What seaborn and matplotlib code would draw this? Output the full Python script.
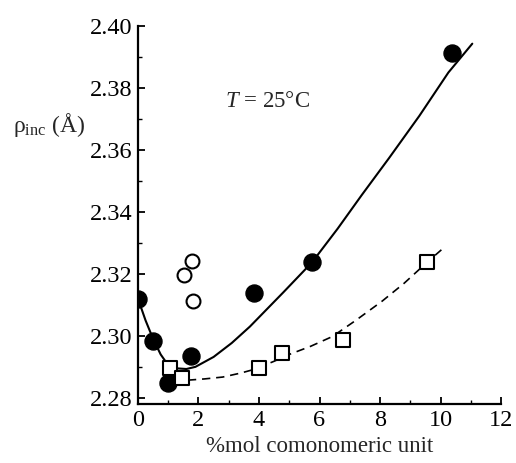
import matplotlib
matplotlib.use("Agg")
import matplotlib.pyplot as plt
import seaborn as sns
import pandas as pd
from matplotlib.ticker import MultipleLocator

# Data
filled_x = [0.0, 0.5, 1.0, 1.75, 3.85, 5.75, 10.37]
filled_y = [2.312, 2.2984, 2.2848, 2.2935, 2.3137, 2.3237, 2.3914]

open_circ_x = [1.52, 1.80, 1.82]
open_circ_y = [2.3197, 2.3243, 2.3114]

square_x = [1.05, 1.44, 4.01, 4.75, 6.78, 9.55]
square_y = [2.2896, 2.2863, 2.2895, 2.2946, 2.2987, 2.3237]

solid_x = [0.0, 0.25, 0.5, 0.75, 1.0, 1.3, 1.6, 1.9, 2.5, 3.1, 3.7, 4.0, 4.8, 5.75, 6.6, 7.4, 8.3, 9.3, 10.26, 11.05]
solid_y = [2.312, 2.305, 2.2990, 2.2940, 2.2905, 2.2895, 2.2893, 2.2900, 2.2932, 2.2977, 2.3030, 2.3060, 2.3140, 2.3237, 2.3346, 2.3455, 2.3574, 2.3710, 2.3850, 2.3943]

dash_x = [1.65, 2.2, 2.8, 3.4, 3.85, 4.5, 5.0, 5.7, 6.43, 7.2, 8.07, 8.8, 9.55, 10.15]
dash_y = [2.2857, 2.2861, 2.2867, 2.2880, 2.2892, 2.2918, 2.2940, 2.2966, 2.2998, 2.3050, 2.3112, 2.3170, 2.3237, 2.3288]

sns.set_theme(style="ticks")
plt.rcParams['font.family'] = ['Liberation Serif', 'DejaVu Serif']
plt.rcParams['mathtext.fontset'] = 'custom'
plt.rcParams['mathtext.rm'] = 'Liberation Serif'
plt.rcParams['mathtext.it'] = 'Liberation Serif:italic'

fig = plt.figure(figsize=(5.16, 4.63), dpi=100)
ax = fig.add_axes([0.2674, 0.1274, 0.7036, 0.8164])

sns.lineplot(x=solid_x, y=solid_y, ax=ax, color='black', lw=1.5, sort=False, estimator=None)
sns.lineplot(x=dash_x, y=dash_y, ax=ax, color='black', lw=1.2, sort=False, estimator=None)
ax.lines[-1].set_dashes([5, 3.5])

sns.scatterplot(x=filled_x, y=filled_y, ax=ax, marker='o', s=150, color='black', edgecolor='black', linewidth=1, zorder=3)
sns.scatterplot(x=open_circ_x, y=open_circ_y, ax=ax, marker='o', s=100, facecolor='white', edgecolor='black', linewidth=1.5, zorder=3)
sns.scatterplot(x=square_x, y=square_y, ax=ax, marker='s', s=95, facecolor='white', edgecolor='black', linewidth=1.5, zorder=4)

ax.set_xlim(0, 12)
ax.set_ylim(2.278, 2.40)
ax.xaxis.set_major_locator(MultipleLocator(2))
ax.xaxis.set_minor_locator(MultipleLocator(1))
ax.yaxis.set_major_locator(MultipleLocator(0.02))
ax.yaxis.set_minor_locator(MultipleLocator(0.01))
ax.yaxis.set_major_formatter(matplotlib.ticker.FormatStrFormatter('%.2f'))

sns.despine(ax=ax)
for s in ['left', 'bottom']:
    ax.spines[s].set_linewidth(1.6)
    ax.spines[s].set_color('black')
ax.tick_params(which='major', direction='in', length=5, width=1.3, labelsize=17.5, colors='black', pad=4)
ax.tick_params(which='minor', direction='in', length=3, width=1.0, colors='black')

ax.set_xlabel('%mol comonomeric unit', fontsize=16.5, labelpad=4)
ax.set_ylabel('')
fig.text(0.025, 0.73, 'ρ$_{\\rm inc}$ (Å)', fontsize=17, ha='left', va='center')
ax.text(2.86, 2.3755, r'$T$ = 25°C', fontsize=16.5, ha='left', va='center')

fig.savefig('out.png', dpi=100)
